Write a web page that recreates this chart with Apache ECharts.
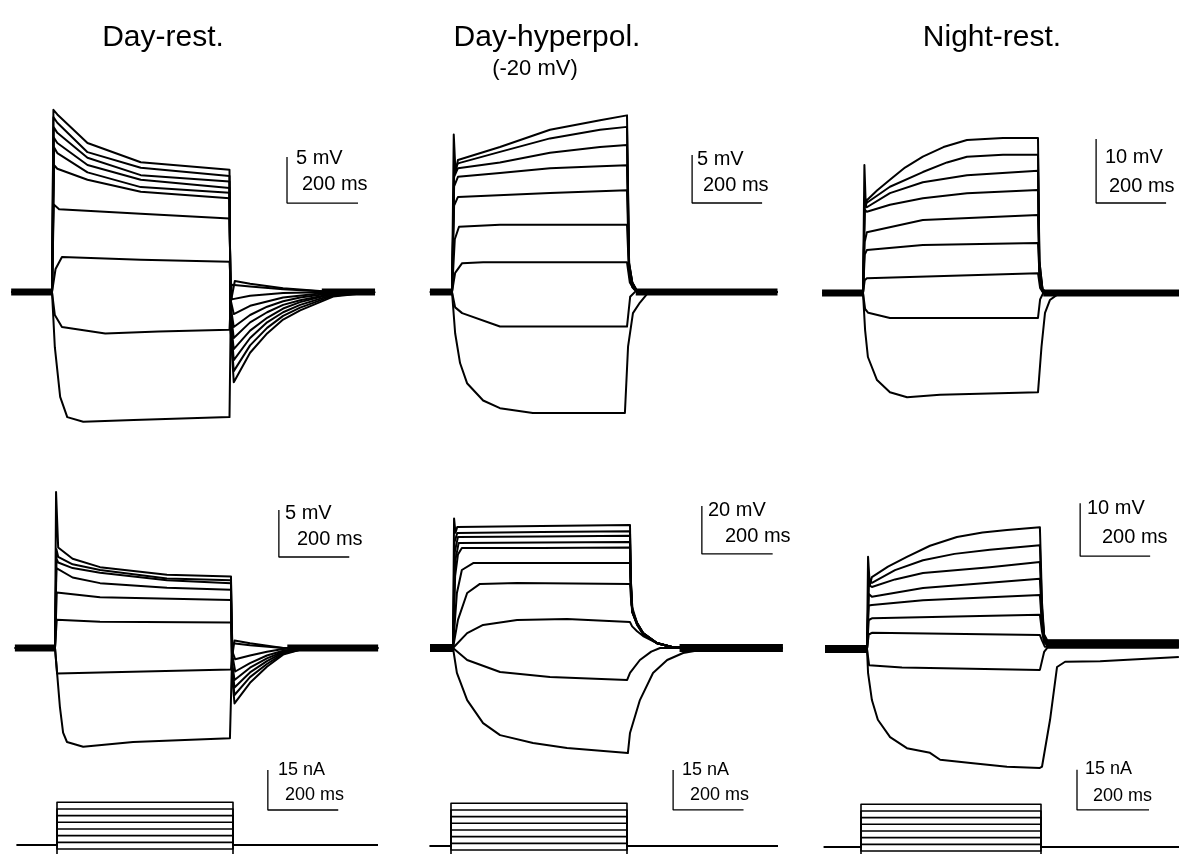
<!DOCTYPE html>
<html><head><meta charset="utf-8">
<script src="https://cdn.jsdelivr.net/npm/echarts@6/dist/echarts.min.js"></script>
<style>html,body{margin:0;padding:0;background:#fff}#c{width:1179px;height:854px}</style>
</head><body><div id="c"></div>
<script>
// ===== DATA (time in ms from step onset, membrane potential in mV relative to rest, current in nA) =====
const titles = ['Day-rest.', 'Day-hyperpol.', 'Night-rest.'];
const subtitle = '(-20 mV)';

const dayRestTop = [
 [[-115,0],[0,0],[4,19.8],[15,19.3],[100,16.2],[250,14.1],[500,13.3],[503,-4],[512,-9.8],[558,-6.6],[606,-4.5],[651,-3.0],[699,-2.0],[792,-0.5],[910,0]],
 [[-115,0],[0,0],[4,19.0],[15,18.4],[100,15.2],[250,13.5],[500,12.6],[503,-4],[512,-8.6],[558,-5.8],[606,-3.9],[651,-2.6],[699,-1.7],[792,-0.4],[910,0]],
 [[-115,0],[0,0],[5,17.9],[15,17.3],[100,14.6],[250,12.7],[500,12.0],[503,-3],[512,-7.4],[558,-5.0],[606,-3.3],[651,-2.2],[699,-1.4],[792,-0.3],[910,0]],
 [[-115,0],[0,0],[5,16.8],[15,16.2],[100,13.8],[250,12.2],[500,11.3],[503,-3],[512,-6.2],[558,-4.2],[606,-2.8],[651,-1.8],[699,-1.1],[792,-0.2],[910,0]],
 [[-115,0],[0,0],[6,15.7],[15,15.1],[100,13.0],[250,11.4],[500,10.8],[503,-2],[512,-5.0],[558,-3.3],[606,-2.2],[651,-1.4],[699,-0.9],[792,-0.2],[910,0]],
 [[-115,0],[0,0],[6,13.8],[15,13.4],[100,12.2],[250,10.9],[500,10.2],[503,-1.5],[512,-3.8],[558,-2.5],[606,-1.6],[651,-1.0],[699,-0.6],[792,-0.1],[910,0]],
 [[-115,0],[0,0],[5,9.5],[20,9.0],[250,8.5],[500,8.0],[504,-1],[512,-2.4],[558,-1.5],[651,-0.6],[792,0],[910,0]],
 [[-115,0],[0,0],[10,2.5],[28,3.8],[250,3.5],[500,3.3],[506,-0.8],[558,-0.4],[651,-0.1],[792,0],[910,0]],
 [[-115,0],[0,0],[8,-2.5],[28,-3.8],[150,-4.5],[300,-4.3],[500,-4.1],[506,0.8],[558,0.6],[651,0.3],[792,0],[910,0]],
 [[-115,0],[0,0],[8,-6.0],[23,-11.4],[43,-13.6],[88,-14.1],[230,-13.9],[500,-13.6],[504,-1.0],[515,1.2],[558,0.9],[651,0.4],[792,0],[910,0]]
];
const dayRestTopBands = [[[-115,0],[0,0]], [[760,0],[910,0]]];

const dayHypTop = [
 [[-63,0],[0,0],[5,16.4],[10,12.5],[17,13.75],[137,15.1],[280,16.9],[423,17.9],[500,18.4],[506,3],[515,1],[530,0],[930,0]],
 [[-63,0],[0,0],[6,12.5],[17,13.4],[137,14.6],[280,16.0],[423,16.9],[500,17.2],[506,3],[515,1],[530,0],[930,0]],
 [[-63,0],[0,0],[6,12],[17,12.9],[137,13.5],[280,14.5],[423,15.1],[500,15.3],[506,2.8],[515,1],[530,0],[930,0]],
 [[-63,0],[0,0],[6,11],[17,12.0],[137,12.4],[280,12.9],[423,13.1],[500,13.2],[506,2.5],[515,0.8],[530,0],[930,0]],
 [[-63,0],[0,0],[6,9.0],[17,9.9],[280,10.3],[500,10.6],[506,2.2],[515,0.7],[530,0],[930,0]],
 [[-63,0],[0,0],[8,5.5],[20,6.8],[137,7.0],[500,7.0],[506,1.8],[515,0.5],[530,0],[930,0]],
 [[-63,0],[0,0],[9,2.0],[29,3.0],[89,3.1],[500,3.1],[508,1.0],[520,0.3],[530,0],[930,0]],
 [[-63,0],[0,0],[9,-1.6],[29,-2.2],[137,-3.6],[500,-3.6],[509,-0.5],[528,0.2],[560,0],[930,0]],
 [[-63,0],[0,0],[9,-4.3],[23,-7.4],[43,-9.5],[89,-11.3],[137,-12.1],[231,-12.6],[494,-12.6],[503,-5.7],[517,-2.2],[537,-1.1],[560,-0.1],[600,0],[930,0]]
];
const dayHypTopBands = [[[-63,0],[0,0]], [[525,0],[930,0]]];

const nightRestTop = [
 [[-117,0],[0,0],[4,20.0],[8,13.5],[11,14.5],[40,16.0],[77,17.7],[120,19.6],[171,21.3],[230,22.8],[297,23.9],[400,24.2],[500,24.2],[504,5],[513,0.5],[530,0],[903,0]],
 [[-117,0],[0,0],[5,15],[11,14.1],[77,16.6],[171,18.9],[240,20.4],[297,21.3],[400,21.6],[500,21.6],[504,5],[513,0.5],[530,0],[903,0]],
 [[-117,0],[0,0],[5,14],[11,13.4],[77,15.6],[171,17.3],[297,18.4],[500,19.1],[504,4],[513,0.5],[530,0],[903,0]],
 [[-117,0],[0,0],[5,13],[11,12.7],[77,13.8],[171,14.8],[297,15.6],[500,16.1],[504,3.5],[513,0.4],[530,0],[903,0]],
 [[-117,0],[0,0],[5,8],[11,9.5],[171,11.4],[500,12.2],[504,3],[513,0.3],[530,0],[903,0]],
 [[-117,0],[0,0],[5,6],[11,6.7],[171,7.5],[500,7.8],[505,2],[513,0.3],[530,0],[903,0]],
 [[-117,0],[0,0],[5,2],[11,2.3],[500,3.1],[506,0.8],[515,0],[903,0]],
 [[-117,0],[0,0],[6,-2.5],[15,-3.1],[77,-3.9],[500,-3.9],[506,-1],[515,0],[903,0]],
 [[-117,0],[0,0],[6,-5.8],[14,-10],[40,-13.6],[77,-15.5],[126,-16.3],[220,-15.9],[500,-15.5],[510,-8.4],[520,-3.1],[534,-1.1],[554,-0.3],[600,0],[903,0]]
];
const nightRestTopBands = [[[-117,0],[0,0]], [[515,0],[903,0]]];

const dayRestMid = [
 [[-114,0],[0,0],[3,16.6],[9,10.7],[50,9.5],[128,8.6],[318,7.8],[500,7.6],[503,-3],[510,-5.9],[554,-3.7],[602,-2.0],[648,-0.7],[696,-0.2],[780,0],[918,0]],
 [[-114,0],[0,0],[4,10.5],[9,9.7],[50,8.9],[128,8.3],[318,7.4],[500,7.2],[503,-2.5],[510,-5.0],[554,-3.1],[602,-1.7],[648,-0.6],[696,-0.2],[780,0],[918,0]],
 [[-114,0],[0,0],[4,9.5],[9,9.1],[50,8.5],[128,8.0],[318,7.2],[500,6.9],[503,-2],[510,-4.2],[554,-2.6],[602,-1.4],[648,-0.5],[696,-0.1],[780,0],[918,0]],
 [[-114,0],[0,0],[4,8.5],[9,8.3],[50,7.5],[128,6.9],[318,6.4],[500,6.2],[503,-1.5],[510,-3.4],[554,-2.1],[602,-1.1],[648,-0.4],[696,-0.1],[780,0],[918,0]],
 [[-114,0],[0,0],[5,5.9],[128,5.4],[500,5.1],[505,-1],[512,-2.5],[554,-1.6],[602,-0.8],[648,-0.3],[720,0],[918,0]],
 [[-114,0],[0,0],[5,3.0],[128,2.8],[500,2.7],[505,-0.5],[512,-1.2],[554,-0.8],[602,-0.4],[648,-0.1],[720,0],[918,0]],
 [[-114,0],[0,0],[6,-2.7],[128,-2.6],[500,-2.3],[505,0.5],[554,0.3],[648,0],[918,0]],
 [[-114,0],[0,0],[6,-2.7],[14,-6.3],[23,-9.0],[34,-10.0],[80,-10.5],[222,-10.0],[497,-9.6],[503,-1],[510,0.8],[554,0.5],[648,0],[918,0]]
];
const dayRestMidBands = [[[-114,0],[0,0]], [[660,0],[918,0]]];

const dayHypMid = [
 [[-65,0],[0,0],[3,54],[7,48],[12,50.4],[250,50.8],[500,51.2],[502,30],[506,15.8],[520,10.4],[537,6.2],[576,2.1],[621,0.3],[700,0],[932,0]],
 [[-65,0],[0,0],[4,44],[12,47.9],[250,48.3],[500,48.6],[502,30],[506,15.8],[520,10.4],[537,6.2],[576,2.1],[621,0.3],[700,0],[932,0]],
 [[-65,0],[0,0],[5,40],[14,46.3],[250,46.5],[500,46.8],[502,29],[506,15.5],[520,10.2],[537,6.1],[576,2.1],[621,0.3],[700,0],[932,0]],
 [[-65,0],[0,0],[6,36],[16,43.8],[250,44.0],[500,44.2],[502,28],[506,15.2],[520,10.0],[537,6.0],[576,2.0],[621,0.3],[700,0],[932,0]],
 [[-65,0],[0,0],[6,30],[14,39],[25,41.7],[250,41.7],[500,41.9],[502,27],[506,15],[520,9.8],[537,5.9],[576,2.0],[621,0.3],[700,0],[932,0]],
 [[-65,0],[0,0],[11,22.9],[25,32.5],[57,35.4],[500,35.4],[503,24],[508,14.5],[520,9.6],[537,5.8],[576,2.0],[621,0.3],[700,0],[932,0]],
 [[-65,0],[0,0],[14,11.7],[40,22.9],[76,26.7],[181,27.1],[500,26.7],[504,18],[520,10.4],[537,6.2],[576,2.1],[621,0.3],[700,0],[932,0]],
 [[-65,0],[0,0],[40,6.2],[85,9.6],[181,11.7],[322,12.1],[500,10.8],[506,9],[520,7],[537,5],[576,2],[621,0.3],[700,0],[932,0]],
 [[-65,0],[0,0],[40,-5],[133,-10],[274,-12.1],[492,-13.3],[500,-10.4],[528,-5],[560,-1.5],[585,0],[932,0]],
 [[-65,0],[0,0],[11,-10.4],[40,-21.7],[85,-31.3],[133,-36.3],[226,-39.6],[322,-41.7],[494,-43.8],[500,-35.4],[528,-21.7],[565,-10.4],[605,-5],[650,-2.1],[698,-0.8],[760,0],[932,0]]
];
const dayHypMidBands = [[[-65,0],[0,0]], [[640,0],[932,0]]];

const nightRestMid = [
 [[-120,0],[0,0],[3,15.9],[8,11],[14,12.4],[60,14.2],[114,15.9],[180,17.8],[257,19.3],[330,20.1],[400,20.5],[494,21.0],[500,8],[506,2.5],[515,1.5],[891,1.5]],
 [[-120,0],[0,0],[5,12],[14,11.4],[80,13.6],[160,15.3],[250,16.4],[351,17.1],[494,17.9],[500,7],[506,2.3],[515,1.3],[891,1.3]],
 [[-120,0],[0,0],[5,11],[14,10.7],[80,12.0],[160,13.1],[351,14.1],[494,15.0],[500,6],[506,2],[515,1.1],[891,1.1]],
 [[-120,0],[0,0],[5,9.5],[14,9.0],[160,10.5],[494,12.1],[500,5],[506,1.8],[515,1.0],[891,1.0]],
 [[-120,0],[0,0],[5,7.5],[14,7.6],[160,8.4],[494,9.3],[500,4],[506,1.5],[515,0.8],[891,0.8]],
 [[-120,0],[0,0],[5,5.0],[14,5.3],[494,5.9],[500,3],[506,1.2],[515,0.6],[891,0.6]],
 [[-120,0],[0,0],[5,2.5],[14,2.8],[494,2.4],[500,1.5],[508,0.4],[891,0.4]],
 [[-120,0],[0,0],[6,-2.8],[100,-3.2],[494,-3.6],[506,-0.5],[515,0.2],[891,0.2]],
 [[-120,0],[0,0],[3,-4.1],[14,-8.8],[31,-12.2],[66,-15.2],[114,-17.1],[180,-17.9],[209,-19.1],[303,-19.7],[400,-20.3],[494,-20.5],[500,-20.3],[523,-12.2],[543,-3.1],[566,-2.2],[666,-2.1],[891,-1.4]]
];
const nightRestMidBands = [[[-120,0],[0,0]], [[515,0.9],[891,0.9]]];

// injected current steps (nA)
const stepLevels = [16, 13.5, 11, 8.5, 6, 3.5, 1, -1.5, -4];
const stepDuration = 500;
const stepSpans = [[-114, 912], [-60, 929], [-103, 903]];

// scale-bar labels
const barLabels = [
 ['5 mV','200 ms'], ['5 mV','200 ms'], ['10 mV','200 ms'],
 ['5 mV','200 ms'], ['20 mV','200 ms'], ['10 mV','200 ms'],
 ['15 nA','200 ms'], ['15 nA','200 ms'], ['15 nA','200 ms']
];

// ===== LAYOUT =====
const X0 = -150, X1 = 960;
function stepTraces(span){
  return stepLevels.map(L => [[span[0],0],[0,0],[0,L],[stepDuration,L],[stepDuration,0],[span[1],0]]);
}
const panels = [
 {traces: dayRestTop, bands: dayRestTopBands, onset: 52, k: 0.355, base: 292, ppu: 9.2, y: [-20, 25], bar: [662, 9.67, 5, 200], lab: [[296,160],[302,186]], fs: 20, bw: 7},
 {traces: dayHypTop, bands: dayHypTopBands, onset: 452, k: 0.35, base: 292, ppu: 9.6, y: [-20, 25], bar: [686, 9.27, 5, 200], lab: [[697,161],[703,187]], fs: 20, bw: 7},
 {traces: nightRestTop, bands: nightRestTopBands, onset: 863, k: 0.35, base: 293, ppu: 6.4, y: [-25, 30], bar: [666, 14.06, 10, 200], lab: [[1105,159],[1109,188]], fs: 20, bw: 7},
 {traces: dayRestMid, bands: dayRestMidBands, onset: 55, k: 0.352, base: 648, ppu: 9.4, y: [-15, 20], bar: [636, 9.68, 5, 200], lab: [[285,515],[297,541]], fs: 20, bw: 7},
 {traces: dayHypMid, bands: dayHypMidBands, onset: 453, k: 0.354, base: 648, ppu: 2.4, y: [-50, 60], bar: [703, 39.2, 20, 200], lab: [[708,512],[725,538]], fs: 20, bw: 8},
 {traces: nightRestMid, bands: nightRestMidBands, onset: 867, k: 0.35, base: 649, ppu: 5.8, y: [-25, 25], bar: [609, 16.0, 10, 200], lab: [[1087,510],[1102,539]], fs: 20, bw: 8},
 {traces: stepTraces(stepSpans[0]), bands: [], onset: 57, k: 0.352, base: 845, ppu: 2.67, y: [-6, 32], bar: [599, 13.1, 15, 200], lab: [[278,772],[285,797]], fs: 18, bw: 0, thin: true},
 {traces: stepTraces(stepSpans[1]), bands: [], onset: 451, k: 0.352, base: 846, ppu: 2.67, y: [-6, 32], bar: [631, 13.5, 15, 200], lab: [[682,772],[690,797]], fs: 18, bw: 0, thin: true},
 {traces: stepTraces(stepSpans[2]), bands: [], onset: 861, k: 0.36, base: 847, ppu: 2.67, y: [-6, 32], bar: [600, 13.9, 15, 200], lab: [[1085,771],[1093,798]], fs: 18, bw: 0, thin: true}
];

const grid = [], xAxis = [], yAxis = [], series = [], graphic = [];
const FONT = '"Liberation Sans", Arial, Helvetica, sans-serif';
panels.forEach((p, i) => {
  grid.push({left: p.onset + X0 * p.k, width: (X1 - X0) * p.k,
             top: p.base - p.y[1] * p.ppu, height: (p.y[1] - p.y[0]) * p.ppu,
             outerBoundsMode: 'none', containLabel: false});
  xAxis.push({type: 'value', gridIndex: i, min: X0, max: X1, show: false});
  yAxis.push({type: 'value', gridIndex: i, min: p.y[0], max: p.y[1], show: false});
  const common = {type: 'line', xAxisIndex: i, yAxisIndex: i, showSymbol: false, symbol: 'none', silent: true, animation: false};
  p.bands.forEach(b => series.push(Object.assign({}, common, {data: b, lineStyle: {color: '#000', width: p.bw, cap: 'butt'}})));
  p.traces.forEach(tr => series.push(Object.assign({}, common, {data: tr, lineStyle: {color: '#000', width: p.thin ? 1.6 : 2, join: 'round'}})));
  const [bt, bv, dv, dt] = p.bar;
  series.push(Object.assign({}, common, {data: [[bt, bv + dv], [bt, bv], [bt + dt, bv]], lineStyle: {color: '#000', width: 1.3}}));
  graphic.push({type: 'text', left: p.lab[0][0], top: p.lab[0][1] - p.fs * 0.6, style: {text: barLabels[i][0], font: p.fs + 'px ' + FONT, fill: '#000'}});
  graphic.push({type: 'text', left: p.lab[1][0], top: p.lab[1][1] - p.fs * 0.6, style: {text: barLabels[i][1], font: p.fs + 'px ' + FONT, fill: '#000'}});
});

const titleX = [163, 547, 992];
titles.forEach((t, i) => graphic.push({type: 'text', x: titleX[i], y: 38,
  style: {text: t, font: '30px ' + FONT, fill: '#000', align: 'center', verticalAlign: 'middle'}}));
graphic.push({type: 'text', x: 535, y: 69, style: {text: subtitle, font: '22px ' + FONT, fill: '#000', align: 'center', verticalAlign: 'middle'}});

const chart = echarts.init(document.getElementById('c'), null, {renderer: 'canvas'});
chart.setOption({backgroundColor: '#fff', animation: false, grid, xAxis, yAxis, series, graphic});
</script></body></html>
